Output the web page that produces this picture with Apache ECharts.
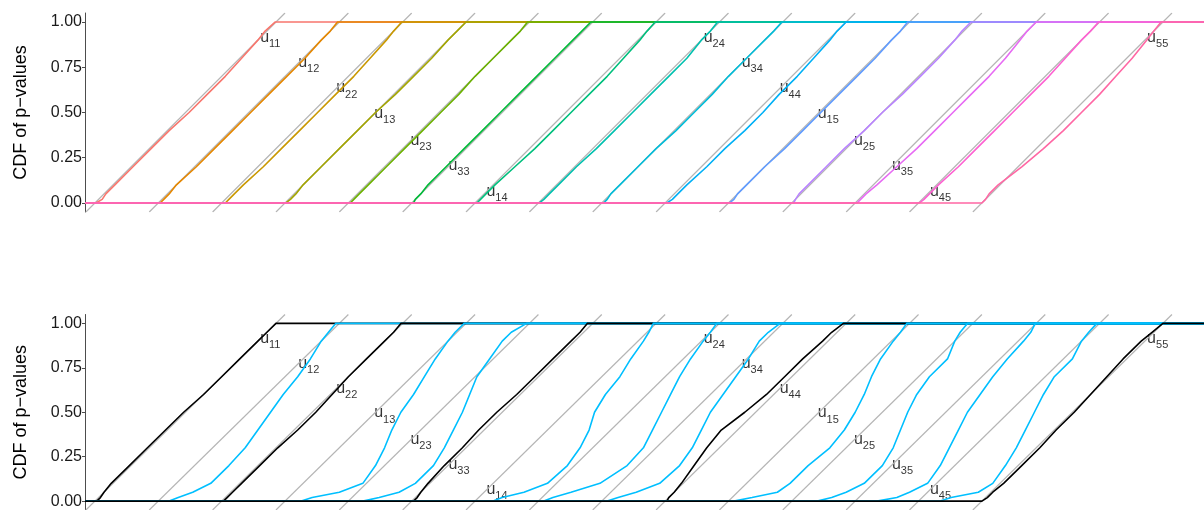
<!DOCTYPE html>
<html>
<head>
<meta charset="utf-8">
<script src="https://cdn.jsdelivr.net/npm/echarts@6/dist/echarts.min.js"></script>
<style>
  html, body { margin: 0; padding: 0; background: #fff; }
  #chart { width: 1204px; height: 510px; }
</style>
</head>
<body>
<div id="chart"></div>
<script>
// curve names (subscripts of u) in drawing order
const names = ['11', '12', '22', '13', '23', '33', '14', '24', '34', '44', '15', '25', '35', '45', '55'];
// horizontal shift of each curve
const offsets = [0, 0.35, 0.70, 1.05, 1.40, 1.75, 2.10, 2.45, 2.80, 3.15, 3.50, 3.85, 4.20, 4.55, 4.90];
// CDF levels at which the quantiles below are read
const levels = [0, 0.02, 0.05, 0.1, 0.2, 0.3, 0.4, 0.5, 0.6, 0.7, 0.8, 0.9, 0.95, 1];
// label heights (CDF units)
const labelY = [0.91, 0.77, 0.63, 0.49, 0.34, 0.2, 0.06, 0.91, 0.77, 0.63, 0.49, 0.34, 0.2, 0.06, 0.91];
const tickValues = [0, 0.25, 0.5, 0.75, 1];

// top panel: p-value quantiles at each level
const topQ = [
  [0.005, 0.04, 0.06, 0.11, 0.21, 0.31, 0.41, 0.52, 0.62, 0.72, 0.81, 0.9, 0.94, 0.995], // u11
  [0.01, 0.03, 0.06, 0.1, 0.21, 0.31, 0.41, 0.51, 0.61, 0.71, 0.81, 0.9, 0.95, 0.99],    // u12
  [0.02, 0.04, 0.07, 0.12, 0.23, 0.33, 0.43, 0.53, 0.63, 0.73, 0.82, 0.91, 0.95, 0.995], // u22
  [0.005, 0.03, 0.06, 0.1, 0.2, 0.3, 0.4, 0.5, 0.61, 0.71, 0.81, 0.9, 0.95, 1.0],       // u13
  [0.01, 0.03, 0.06, 0.11, 0.21, 0.31, 0.41, 0.51, 0.61, 0.7, 0.8, 0.9, 0.95, 0.99],    // u23
  [0.01, 0.02, 0.05, 0.09, 0.19, 0.29, 0.39, 0.49, 0.59, 0.69, 0.79, 0.89, 0.94, 0.99], // u33
  [0.01, 0.03, 0.06, 0.11, 0.22, 0.33, 0.43, 0.53, 0.63, 0.73, 0.82, 0.91, 0.95, 0.995], // u14
  [0.005, 0.03, 0.06, 0.11, 0.21, 0.32, 0.42, 0.52, 0.62, 0.72, 0.82, 0.9, 0.95, 0.99], // u24
  [0.01, 0.03, 0.05, 0.1, 0.2, 0.3, 0.41, 0.51, 0.61, 0.7, 0.8, 0.9, 0.95, 0.995],      // u34
  [0.01, 0.04, 0.07, 0.12, 0.23, 0.33, 0.44, 0.54, 0.63, 0.73, 0.82, 0.91, 0.95, 1.0],  // u44
  [0.005, 0.03, 0.05, 0.1, 0.2, 0.31, 0.41, 0.51, 0.61, 0.71, 0.81, 0.9, 0.95, 0.99],   // u15
  [0.01, 0.02, 0.04, 0.09, 0.19, 0.29, 0.4, 0.5, 0.61, 0.71, 0.81, 0.9, 0.94, 0.99],    // u25
  [0.01, 0.03, 0.06, 0.12, 0.23, 0.34, 0.44, 0.54, 0.64, 0.74, 0.83, 0.91, 0.95, 1.0],  // u35
  [0.005, 0.03, 0.06, 0.11, 0.22, 0.32, 0.42, 0.52, 0.62, 0.72, 0.81, 0.9, 0.95, 0.995], // u45
  [0.0, 0.02, 0.04, 0.09, 0.22, 0.34, 0.45, 0.55, 0.65, 0.74, 0.83, 0.91, 0.95, 0.99]   // u55
];

// bottom panel: p-value quantiles at each level
const botQ = [
  [0.01, 0.03, 0.05, 0.09, 0.19, 0.29, 0.39, 0.49, 0.6, 0.7, 0.8, 0.9, 0.95, 1.0],      // u11
  [0.06, 0.11, 0.19, 0.29, 0.39, 0.48, 0.55, 0.62, 0.69, 0.77, 0.84, 0.9, 0.94, 0.98],  // u12
  [0.01, 0.03, 0.06, 0.11, 0.21, 0.31, 0.42, 0.52, 0.61, 0.7, 0.8, 0.9, 0.95, 0.99],    // u22
  [0.09, 0.15, 0.3, 0.43, 0.5, 0.55, 0.59, 0.64, 0.71, 0.77, 0.83, 0.9, 0.94, 0.99],    // u13
  [0.08, 0.17, 0.28, 0.37, 0.47, 0.53, 0.58, 0.63, 0.67, 0.71, 0.78, 0.85, 0.9, 0.985], // u23
  [0.01, 0.03, 0.05, 0.09, 0.18, 0.28, 0.37, 0.47, 0.58, 0.68, 0.78, 0.88, 0.93, 0.97], // u33
  [0.1, 0.15, 0.27, 0.4, 0.51, 0.58, 0.63, 0.66, 0.72, 0.8, 0.86, 0.93, 0.96, 0.985],   // u14
  [0.03, 0.08, 0.18, 0.34, 0.49, 0.58, 0.63, 0.68, 0.73, 0.78, 0.84, 0.91, 0.95, 0.985], // u24
  [0.03, 0.09, 0.19, 0.32, 0.43, 0.5, 0.55, 0.6, 0.67, 0.74, 0.81, 0.87, 0.92, 0.985],  // u34
  [0.01, 0.02, 0.05, 0.09, 0.16, 0.23, 0.31, 0.44, 0.56, 0.66, 0.76, 0.87, 0.92, 0.985], // u44
  [0.03, 0.13, 0.27, 0.34, 0.44, 0.56, 0.64, 0.7, 0.75, 0.79, 0.84, 0.91, 0.95, 0.985], // u15
  [0.14, 0.22, 0.3, 0.4, 0.5, 0.56, 0.6, 0.64, 0.69, 0.76, 0.86, 0.9, 0.93, 0.97],      // u25
  [0.12, 0.23, 0.3, 0.4, 0.47, 0.52, 0.57, 0.62, 0.69, 0.76, 0.84, 0.93, 0.97, 0.995],  // u35
  [0.12, 0.18, 0.33, 0.41, 0.48, 0.54, 0.59, 0.64, 0.69, 0.75, 0.85, 0.9, 0.94, 0.985], // u45
  [0.0, 0.03, 0.06, 0.12, 0.22, 0.32, 0.41, 0.51, 0.6, 0.69, 0.78, 0.88, 0.94, 1.0]     // u55
];

const topColors = ['#F8766D', '#E58700', '#C99800', '#A3A500', '#6BB100', '#00BA38', '#00BF7D', '#00C0AF',
  '#00BCD8', '#00B0F6', '#619CFF', '#B983FF', '#E76BF3', '#FD61D1', '#FF67A4'];
const botColors = ['#000000', '#00BFFF', '#000000', '#00BFFF', '#00BFFF', '#000000', '#00BFFF', '#00BFFF',
  '#00BFFF', '#000000', '#00BFFF', '#00BFFF', '#00BFFF', '#00BFFF', '#000000'];

const xMin = -0.055, xMax = 6.127;
const font = 'Liberation Sans, Arial, Helvetica, sans-serif';

const chart = echarts.init(document.getElementById('chart'), null, { renderer: 'canvas' });

function yAxisFor(gi) {
  return {
    type: 'value', gridIndex: gi, min: -0.05, max: 1.05,
    name: 'CDF of p\u2212values', nameLocation: 'middle', nameGap: 55, nameRotate: 90,
    nameTextStyle: { color: '#000', fontSize: 18, fontFamily: font },
    splitLine: { show: false },
    axisLine: { show: true, onZero: false, lineStyle: { color: '#4d4d4d', width: 1 } },
    axisTick: { show: true, length: 3, lineStyle: { color: '#4d4d4d' }, customValues: tickValues },
    axisLabel: {
      color: '#1a1a1a', fontSize: 16, fontFamily: font, margin: 3,
      customValues: tickValues, formatter: v => v.toFixed(2)
    }
  };
}

function xAxisFor(gi) {
  return { type: 'value', gridIndex: gi, min: xMin, max: xMax, show: false, splitLine: { show: false } };
}

function panelSeries(gi, quant, colors) {
  const out = [];
  // uniform reference lines
  offsets.forEach(o => {
    out.push({
      type: 'line', xAxisIndex: gi, yAxisIndex: gi, symbol: 'none', silent: true,
      lineStyle: { color: '#B5B5B5', width: 1.2 },
      data: [[o - 0.05, -0.05], [o + 1.05, 1.05]]
    });
  });
  // empirical CDFs
  quant.forEach((q, i) => {
    const pts = [[xMin, 0]];
    q.forEach((p, j) => pts.push([offsets[i] + p, levels[j]]));
    pts.push([xMax, 1]);
    out.push({
      type: 'line', xAxisIndex: gi, yAxisIndex: gi, symbol: 'none', silent: true,
      lineStyle: { color: colors[i], width: 1.6 },
      data: pts
    });
  });
  // u_ij labels
  out.push({
    type: 'scatter', xAxisIndex: gi, yAxisIndex: gi, symbolSize: 1, silent: true,
    itemStyle: { color: 'transparent' },
    data: names.map((n, i) => ({
      value: [offsets[i] + labelY[i], labelY[i]],
      label: { formatter: '{a|u}{b|' + n + '}' }
    })),
    label: {
      show: true, position: 'right', distance: 0, offset: [0, -1],
      rich: {
        a: { fontSize: 16, lineHeight: 24, color: '#000', fontFamily: font },
        b: { fontSize: 11, lineHeight: 11, padding: [13, 0, 0, 0], color: '#000', fontFamily: font }
      }
    }
  });
  return out;
}

chart.setOption({
  animation: false,
  backgroundColor: '#fff',
  grid: [
    { left: 85, top: 13, height: 199, right: 0 },
    { left: 85, top: 314.5, height: 199, right: 0 }
  ],
  xAxis: [xAxisFor(0), xAxisFor(1)],
  yAxis: [yAxisFor(0), yAxisFor(1)],
  series: panelSeries(0, topQ, topColors).concat(panelSeries(1, botQ, botColors))
});
</script>
</body>
</html>
